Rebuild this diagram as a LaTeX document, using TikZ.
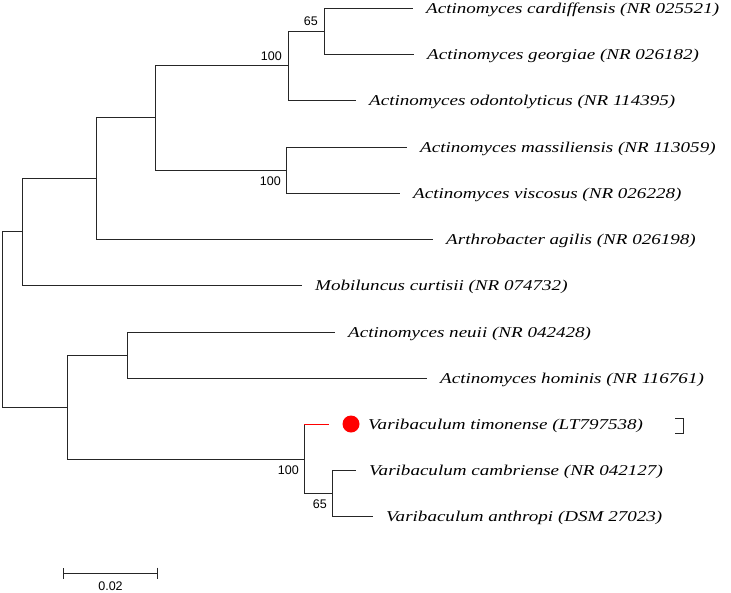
\documentclass[tikz,border=0pt]{standalone}
\usepackage{fontspec}
\setmainfont{Liberation Serif}
\newfontfamily\taxonfont[FakeStretch=1.27]{Liberation Serif}
\newfontfamily\bootfont{Liberation Sans}
\usetikzlibrary{arrows.meta,calc}
\tikzstyle{branch}=[line width=1pt, black!85]
\tikzstyle{taxon}=[anchor=west, inner xsep=13pt, inner ysep=0pt, text height=10pt, text depth=0pt, font=\taxonfont\itshape\fontsize{15}{18}\selectfont]
\tikzstyle{boot}=[anchor=south east, inner sep=0pt, font=\bootfont\fontsize{12.5}{14}\selectfont]
\newcommand{\taxon}[4]{
	\node[taxon] (#1) at (#2,#3) {#4};
}

\begin{document}
\begin{tikzpicture}[x=1pt,y=-1pt]
	\useasboundingbox (0,0) rectangle (731,592);
	% tips
	\taxon{cardiff}{413}{8}{Actinomyces cardiffensis (NR 025521)}
	\taxon{georg}{414}{54}{Actinomyces georgiae (NR 026182)}
	\taxon{odonto}{356}{100}{Actinomyces odontolyticus (NR 114395)}
	\taxon{massil}{407}{147}{Actinomyces massiliensis (NR 113059)}
	\taxon{visc}{400}{193}{Actinomyces viscosus (NR 026228)}
	\taxon{arthro}{433}{239}{Arthrobacter agilis (NR 026198)}
	\taxon{mobil}{302}{285}{Mobiluncus curtisii (NR 074732)}
	\taxon{neuii}{335}{332}{Actinomyces neuii (NR 042428)}
	\taxon{homin}{427}{378}{Actinomyces hominis (NR 116761)}
	\taxon{timon}{355}{424}{Varibaculum timonense (LT797538)}
	\taxon{cambr}{356}{470}{Varibaculum cambriense (NR 042127)}
	\taxon{anthr}{373}{516}{Varibaculum anthropi (DSM 27023)}
	% inner nodes
	\coordinate (nCG) at (324,31);
	\coordinate (nA) at (288,65);
	\coordinate (nMV) at (286,170);
	\coordinate (nAct) at (155,117.5);
	\coordinate (nArt) at (96,178);
	\coordinate (nMob) at (22,231);
	\coordinate (root) at (2,319);
	\coordinate (nLow) at (67,407);
	\coordinate (nNH) at (127,355);
	\coordinate (nVar) at (304,459);
	\coordinate (nVC) at (332,493);
	\coordinate (timend) at (329,424);
	% branches
	\draw[branch] (nCG) |- (cardiff.west);
	\draw[branch] (nCG) |- (georg.west);
	\draw[branch] (nA) |- (nCG);
	\draw[branch] (nA) |- (odonto.west);
	\draw[branch] (nMV) |- (massil.west);
	\draw[branch] (nMV) |- (visc.west);
	\draw[branch] (nAct) |- (nA);
	\draw[branch] (nAct) |- (nMV);
	\draw[branch] (nArt) |- (nAct);
	\draw[branch] (nArt) |- (arthro.west);
	\draw[branch] (nMob) |- (nArt);
	\draw[branch] (nMob) |- (mobil.west);
	\draw[branch] (root) |- (nMob);
	\draw[branch] (root) |- (nLow);
	\draw[branch] (nLow) |- (nNH);
	\draw[branch] (nLow) |- (nVar);
	\draw[branch] (nNH) |- (neuii.west);
	\draw[branch] (nNH) |- (homin.west);
	\draw[branch] (nVar) |- (nVC);
	\draw[branch] (nVar) -- (nVar |- timend);
	\draw[branch, red] (nVar |- timend) -- (timend);
	\draw[branch] (nVC) |- (cambr.west);
	\draw[branch] (nVC) |- (anthr.west);
	% new species marker
	\node[circle, fill=red, inner sep=0pt, minimum size=17pt] (dot) at (351,424) {};
	\draw[branch] (675,418) -| (683,433) -- (675,433);
	% bootstrap values
	\node[boot] (b1) at (318,26) {65};
	\node[boot] (b2) at (282,61) {100};
	\node[boot] (b3) at (281,186) {100};
	\node[boot] (b4) at (299,475) {100};
	\node[boot] (b5) at (327,509) {65};
	% scale bar
	\coordinate (sbl) at (63,573);
	\coordinate (sbr) at (158,573);
	\draw[branch, {Bar[width=11pt]}-{Bar[width=11pt]}] (sbl) -- (sbr);
	\node[boot, anchor=south] (sblab) at (110.5,591) {0.02};
\end{tikzpicture}
\end{document}
